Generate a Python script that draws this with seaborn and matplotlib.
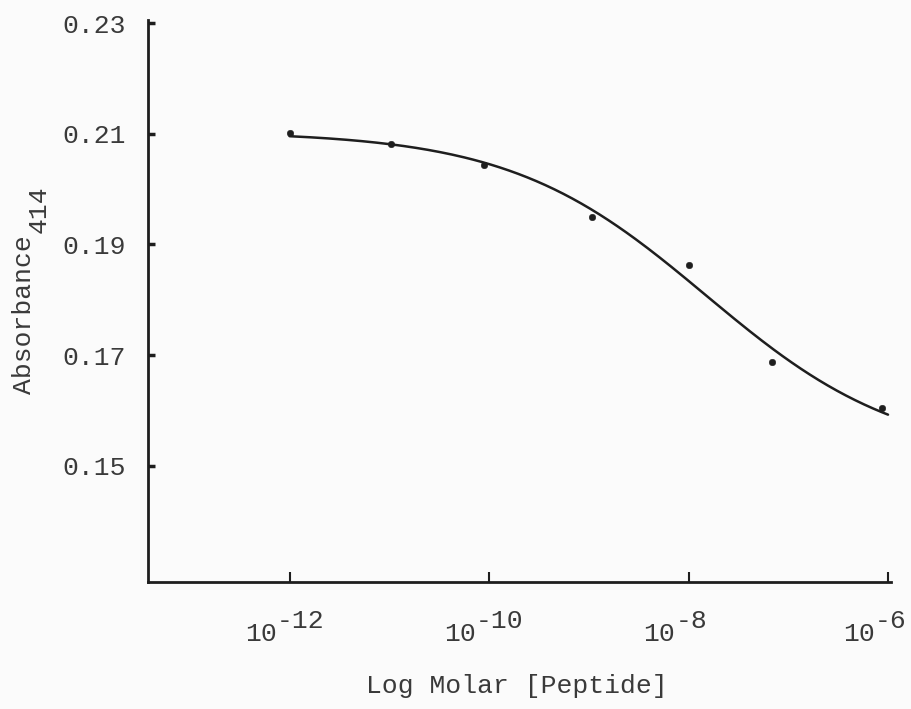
import numpy as np
import pandas as pd
import seaborn as sns
import matplotlib
matplotlib.use("Agg")
import matplotlib.pyplot as plt
from matplotlib import transforms

# log10 molar concentration of peptide and measured absorbance at 414 nm
log_conc = [-12.0, -10.98, -10.05, -8.97, -8.0, -7.16, -6.06]
absorbance = [0.2101, 0.2082, 0.2043, 0.1950, 0.1862, 0.1688, 0.1604]
tick_pos = [-12, -10, -8, -6]
tick_exps = ["-12", "-10", "-8", "-6"]
ytick_pos = [0.15, 0.17, 0.19, 0.21, 0.23]

df = pd.DataFrame({"logc": log_conc, "abs": absorbance})

# four-parameter logistic fit (grid search on midpoint/slope, least squares on top/bottom)
x = np.array(log_conc)
y = np.array(absorbance)
best = None
for x0 in np.linspace(-10, -7, 121):
    for h in np.linspace(0.3, 2.0, 86):
        s = 1.0 / (1.0 + 10 ** ((x - x0) * h))
        A = np.column_stack([np.ones_like(s), s])
        coef, *_ = np.linalg.lstsq(A, y, rcond=None)
        err = np.sum((A @ coef - y) ** 2)
        if best is None or err < best[0]:
            best = (err, x0, h, coef)
_, x0, h, (bottom, span) = best
xs = np.linspace(-12, -6, 200)
fit = pd.DataFrame({"logc": xs, "abs": bottom + span / (1.0 + 10 ** ((xs - x0) * h))})

sns.set_style("white")
plt.rcParams["font.family"] = ["Liberation Mono", "DejaVu Sans Mono"]

W, H = 912, 709
bg = "#fbfbfb"
ink = "#1e1e1e"
txt = "#3a3a3a"
fs = 19

fig = plt.figure(figsize=(W / 100, H / 100), dpi=100, facecolor=bg)
ax = fig.add_axes([148 / W, 1 - 581.7 / H, (891 - 148) / W, (581.7 - 20) / H])
ax.set_facecolor(bg)

sns.lineplot(data=fit, x="logc", y="abs", ax=ax, color=ink, lw=1.8)
sns.scatterplot(data=df, x="logc", y="abs", ax=ax, color=ink, s=22, edgecolor=ink, zorder=3)

ax.set_xlim(-13.42, -5.97)
ax.set_ylim(0.129, 0.2306)
ax.set_xticks(tick_pos)
ax.set_xticklabels([])
ax.set_yticks(ytick_pos)
ax.set_yticklabels([f"{v:.2f}" for v in ytick_pos])

for side in ["top", "right"]:
    ax.spines[side].set_visible(False)
for side in ["left", "bottom"]:
    ax.spines[side].set_color(ink)
    ax.spines[side].set_linewidth(2)

ax.tick_params(axis="y", left=True, direction="in", length=5, width=2.5, color=ink,
               labelsize=fs, pad=16, labelcolor=txt)
ax.tick_params(axis="x", bottom=True, direction="in", length=7, width=1.5, color=ink)

# typewriter style tick labels: "10" with a raised exponent of the same size
trans = transforms.blended_transform_factory(ax.transData, ax.transAxes)
for pos, e in zip(tick_pos, tick_exps):
    ax.annotate("10", xy=(pos, 0), xycoords=trans, xytext=(-9.5, -42.5),
                textcoords="offset points", ha="right", va="baseline",
                fontsize=fs, color=txt, annotation_clip=False)
    ax.annotate(e, xy=(pos, 0), xycoords=trans, xytext=(-9.5, -33.3),
                textcoords="offset points", ha="left", va="baseline",
                fontsize=fs, color=txt, annotation_clip=False)

ax.set_xlabel("")
ax.set_ylabel("")
fig.text(516.5 / W, 1 - 693 / H, "Log Molar [Peptide]", ha="center", va="baseline",
         fontsize=fs, color=txt)
fig.text(24 / W, 1 - 314.5 / H, "Absorbance", rotation=90, ha="center", va="center",
         fontsize=fs, color=txt)
fig.text(38.5 / W, 1 - 209 / H, "414", rotation=90, ha="center", va="center",
         fontsize=fs, color=txt)

fig.savefig("out.png", dpi=100, facecolor=bg)
